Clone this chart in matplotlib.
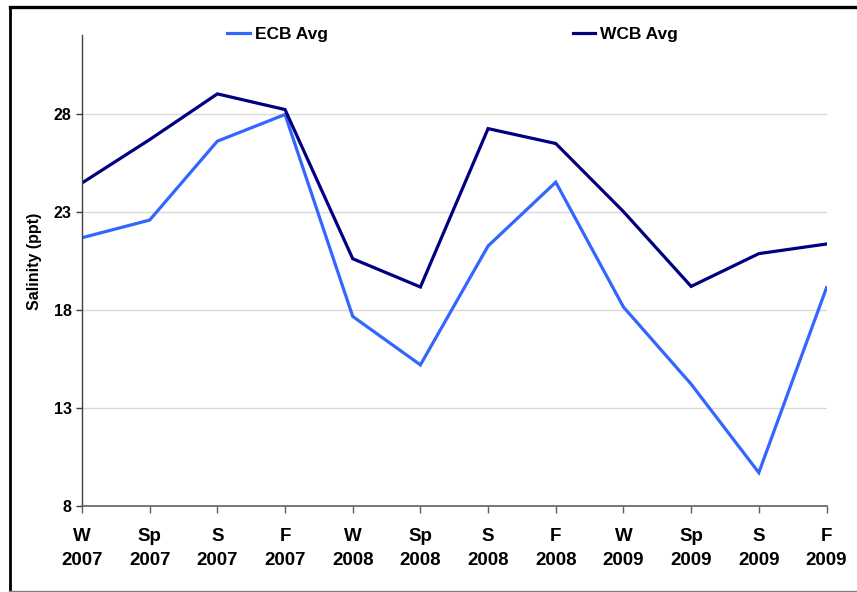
import matplotlib
matplotlib.use("Agg")
import matplotlib.pyplot as plt
from matplotlib.lines import Line2D

plt.rcParams['font.family'] = ['Liberation Sans', 'DejaVu Sans']
plt.rcParams['font.weight'] = 'bold'

seasons = ["W", "Sp", "S", "F", "W", "Sp", "S", "F", "W", "Sp", "S", "F"]
years = ["2007", "2007", "2007", "2007", "2008", "2008", "2008", "2008",
         "2009", "2009", "2009", "2009"]
tick_labels = [f"{s}\n{y}" for s, y in zip(seasons, years)]

ecb_avg = [21.67, 22.57, 26.59, 27.95, 17.66, 15.19, 21.25, 24.5,
           18.14, 14.21, 9.7, 19.12]
wcb_avg = [24.46, 26.67, 29.0, 28.2, 20.6, 19.16, 27.23, 26.47,
           23.0, 19.19, 20.86, 21.35]

yticks = [8, 13, 18, 23, 28]

W, H = 857, 592
fig = plt.figure(figsize=(W / 100, H / 100), dpi=100)
ax = fig.add_axes([82 / W, 1 - 506 / H, (826.5 - 82) / W, (506 - 35) / H])

x = list(range(len(tick_labels)))
ax.plot(x, ecb_avg, color="#3366FF", lw=2.3, label="ECB Avg", solid_joinstyle="miter")
ax.plot(x, wcb_avg, color="#000080", lw=2.3, label="WCB Avg", solid_joinstyle="miter")

ax.set_xlim(0, len(x) - 1)
ax.set_ylim(8, 32)
ax.set_yticks(yticks)
ax.set_yticklabels([str(t) for t in yticks], fontsize=11.5, fontweight='bold')
ax.set_xticks(x)
ax.set_xticklabels(tick_labels, fontsize=13.5, fontweight='bold', linespacing=1.55)

ax.grid(axis='y', color="#d9d9d9", lw=1)
ax.set_axisbelow(True)
for s in ["top", "right"]:
    ax.spines[s].set_visible(False)
ax.spines["left"].set_color("#404040")
ax.spines["bottom"].set_color("#606060")
ax.spines["left"].set_linewidth(1)
ax.spines["bottom"].set_linewidth(1.2)
ax.tick_params(axis='x', direction='out', length=5, width=1, color="#606060", pad=11)
ax.tick_params(axis='y', direction='out', length=4.5, width=1, color="#404040", pad=3)

ax.set_ylabel("Salinity (ppt)", fontsize=11.5, fontweight='bold')
ax.yaxis.set_label_coords(-0.054, 0.52)

leg = fig.legend(loc='center left', bbox_to_anchor=(227 / W, 1 - 34 / H), ncol=2,
                 frameon=False, handlelength=1.3, handletextpad=0.3,
                 columnspacing=14.1, borderpad=0, borderaxespad=0,
                 prop={'weight': 'bold', 'size': 12.5})

# outer border (top / left thick black, bottom thin grey)
fig.add_artist(Line2D([9.5 / W, 1], [1 - 7 / H, 1 - 7 / H], transform=fig.transFigure,
                      color="black", lw=2.4))
fig.add_artist(Line2D([10 / W, 10 / W], [1 - 7 / H, 1 - 590.5 / H], transform=fig.transFigure,
                      color="black", lw=2.0))
fig.add_artist(Line2D([9 / W, 1], [1 - 590.5 / H, 1 - 590.5 / H], transform=fig.transFigure,
                      color="#808080", lw=1.0))

fig.savefig("out.png", dpi=100)
